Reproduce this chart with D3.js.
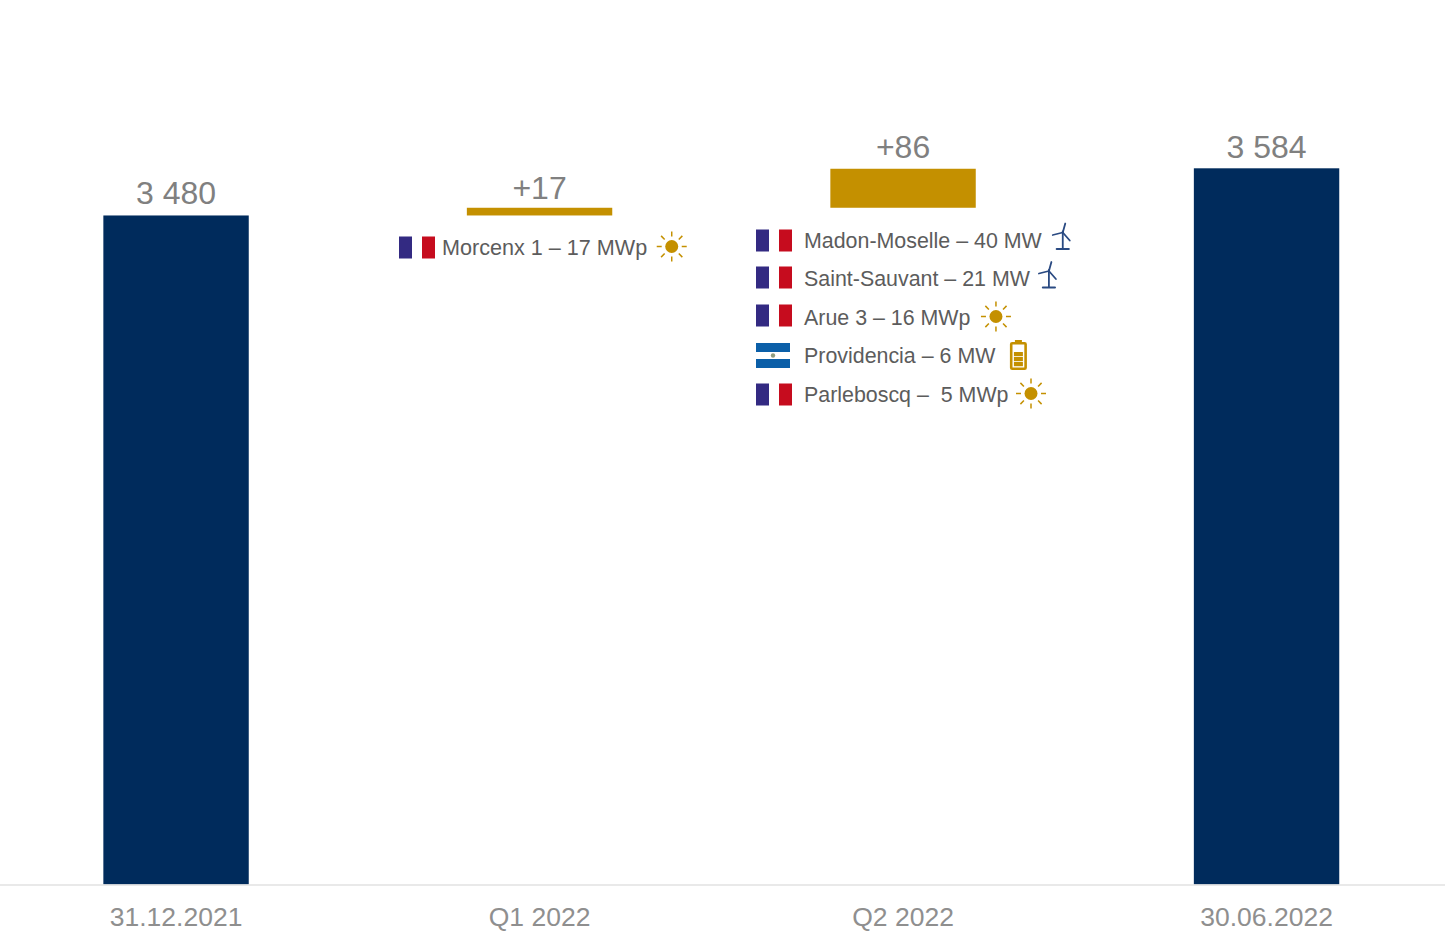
<!DOCTYPE html>
<html><head><meta charset="utf-8">
<script src="https://cdn.jsdelivr.net/npm/d3@7"></script>
<style>html,body{margin:0;padding:0;background:#fff}svg{display:block}text{font-family:"Liberation Sans",Arial,sans-serif}</style>
</head><body><svg id="c" width="1445" height="933"></svg>
<script>
const categories=["31.12.2021","Q1 2022","Q2 2022","30.06.2022"];
const barStart=[0,3480,3497,0];
const barEnd=[3480,3497,3583,3584];
const barLabels=["3 480","+17","+86","3 584"];
const barKinds=["total","delta","delta","total"];
const q1Names=["Morcenx 1 – 17 MWp"];
const q1Flags=["fr"];
const q1Icons=["sun"];
const q2Names=["Madon-Moselle – 40 MW","Saint-Sauvant – 21 MW","Arue 3 – 16 MWp","Providencia – 6 MW","Parleboscq –  5 MWp"];
const q2Flags=["fr","fr","fr","sv","fr"];
const q2Icons=["wind","wind","sun","battery","sun"];

const NAVY="#002b5c",GOLD="#c49000",GREY="#808080",TXT="#5c5c5c",WBLUE="#2a4a82";
const svg=d3.select("#c");
const x=d3.scaleBand().domain(categories).range([-5.7,1448.3]).paddingInner(0.6).paddingOuter(0.3);
const axisFloor=2005;
const y=d3.scaleLinear().domain([axisFloor,3584]).range([884.5,168.3]);
const bars=categories.map((c,i)=>({c,i,a:Math.max(barStart[i],axisFloor),b:barEnd[i],l:barLabels[i],k:barKinds[i]}));
const labelGap=[11,9,11,10];

svg.selectAll("rect.bar").data(bars).join("rect").attr("class","bar")
 .attr("x",d=>x(d.c)).attr("width",x.bandwidth())
 .attr("y",d=>y(d.b)).attr("height",d=>y(d.a)-y(d.b))
 .attr("fill",d=>d.k==="total"?NAVY:GOLD);
svg.selectAll("text.val").data(bars).join("text").attr("class","val")
 .attr("x",d=>x(d.c)+x.bandwidth()/2).attr("y",d=>y(d.b)-labelGap[d.i])
 .attr("text-anchor","middle").attr("font-size",32).attr("fill",GREY).text(d=>d.l);

const ax=svg.append("g").attr("transform","translate(0,884.5)").call(d3.axisBottom(x).tickSize(0).tickPadding(23));
ax.select(".domain").attr("stroke","#e2e2e2").attr("stroke-width",1.5);
ax.selectAll("text").attr("font-size",26.5).attr("fill","#8f8f8f").style("font-family",'"Liberation Sans",Arial,sans-serif');

function flag(g,kind){
 if(kind==="fr"){
  g.append("rect").attr("x",0).attr("y",-11).attr("width",13).attr("height",22).attr("fill","#332a82");
  g.append("rect").attr("x",23).attr("y",-11).attr("width",13).attr("height",22).attr("fill","#c60c1e");
 }else{
  g.append("rect").attr("x",0).attr("y",-12).attr("width",34).attr("height",9).attr("fill","#0b5fa8");
  g.append("rect").attr("x",0).attr("y",4).attr("width",34).attr("height",9).attr("fill","#0b5fa8");
  g.append("circle").attr("cx",17).attr("cy",0.5).attr("r",2.2).attr("fill","#8f9c7e");
 }
}
function sun(g){
 g.append("circle").attr("r",6.5).attr("fill",GOLD);
 d3.range(8).forEach(i=>{const a=i*Math.PI/4;
  g.append("line").attr("x1",10*Math.cos(a)).attr("y1",10*Math.sin(a))
   .attr("x2",15*Math.cos(a)).attr("y2",15*Math.sin(a))
   .attr("stroke",GOLD).attr("stroke-width",1.5);});
}
function wind(g){
 const s=g.append("g").attr("stroke",WBLUE).attr("fill","none").attr("stroke-linecap","round");
 s.append("path").attr("d","M0,-8 L0,9").attr("stroke-width",1.8);
 s.append("path").attr("d","M-6,9.5 L6,9.5").attr("stroke-width",2.2);
 s.append("path").attr("d","M0,-7 L2.5,-16").attr("stroke-width",1.8);
 s.append("path").attr("d","M0,-7 L-10,-4.5").attr("stroke-width",1.8);
 s.append("path").attr("d","M0,-7 L7,1").attr("stroke-width",1.8);
}
function battery(g){
 g.append("rect").attr("x",-3.5).attr("y",-15).attr("width",7).attr("height",3).attr("fill",GOLD);
 g.append("rect").attr("x",-7.2).attr("y",-11.7).attr("width",14.4).attr("height",25.4).attr("rx",1).attr("fill","none").attr("stroke",GOLD).attr("stroke-width",2.6);
 [-3,2,7].forEach(v=>g.append("rect").attr("x",-4.5).attr("y",v).attr("width",9).attr("height",4.2).attr("fill",GOLD));
}
const icons={sun,wind,battery};
const iconGap={sun:24.5,wind:19,battery:22};

function legend(names,flags,ic,left,textOffset,fontSize,rows,flagShift,iconShift){
 names.forEach((n,i)=>{
  const cy=rows(i);
  const row=svg.append("g").attr("class","item");
  flag(row.append("g").attr("transform",`translate(${left},${cy+flagShift[i]})`),flags[i]);
  const t=row.append("text").attr("x",left+textOffset).attr("y",cy+7).attr("font-size",fontSize).attr("fill",TXT)
    .style("white-space","pre").text(n);
  const end=left+textOffset+t.node().getComputedTextLength();
  const g=row.append("g").attr("transform",`translate(${end+iconGap[ic[i]]+iconShift[i]},${cy-1})`);
  icons[ic[i]](g);
 });
}
legend(q1Names,q1Flags,q1Icons,399,43,21.6,d3.scalePoint().domain(d3.range(1)).range([247.5,247.5]),[0],[0]);
legend(q2Names,q2Flags,q2Icons,756,48,21.4,d3.scalePoint().domain(d3.range(5)).range([240.5,394.5]),[0,-1.5,-2,-1,0],[2,0,1,1,-2]);
</script></body></html>
